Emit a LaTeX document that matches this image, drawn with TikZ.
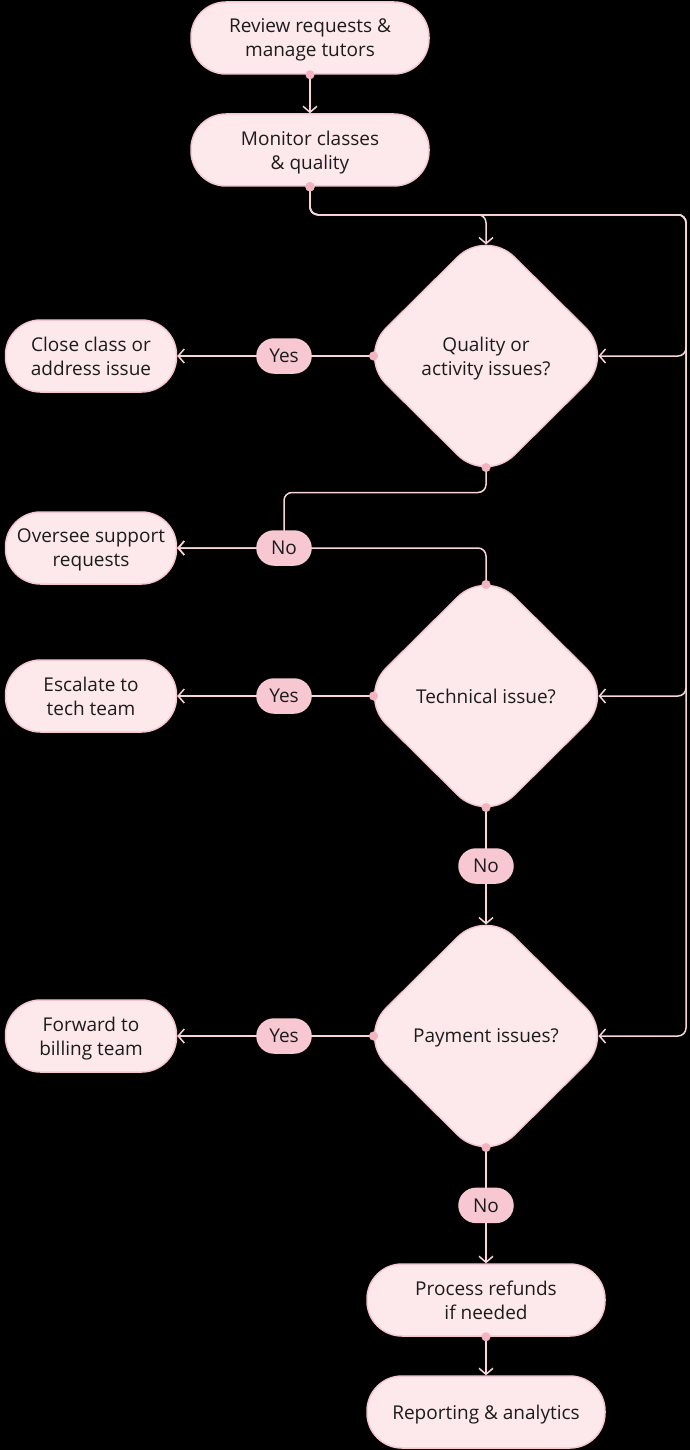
\documentclass[tikz,border=0pt]{standalone}
\usepackage{fontspec}
\setmainfont{Open Sans}
\usetikzlibrary{shapes.geometric, arrows.meta, positioning}
\definecolor{nodefill}{HTML}{FDE8EC}
\definecolor{nodeline}{HTML}{F4C6CE}
\definecolor{tagfill}{HTML}{F8C8D2}
\definecolor{wire}{HTML}{F7D6DB}
\definecolor{dotpink}{HTML}{F2B4C1}
\definecolor{ink}{HTML}{1C1C1C}
\tikzstyle{process} = [rectangle, rounded corners=35pt, minimum width=238pt, minimum height=72pt, text depth=0pt, text centered, align=center, draw=nodeline, line width=1.5pt, fill=nodefill, text=ink, font=\fontsize{19}{24}\selectfont]
\tikzstyle{side} = [process, minimum width=171pt]
\tikzstyle{decision} = [diamond, rounded corners=40pt, minimum width=247pt, minimum height=245pt, inner sep=0pt, outer sep=-11pt, text depth=0pt, text centered, align=center, draw=nodeline, line width=1.5pt, fill=nodefill, text=ink, font=\fontsize{19}{24}\selectfont]
\tikzstyle{answer} = [rectangle, rounded corners=17pt, minimum width=54pt, minimum height=34pt, inner xsep=6pt, draw=tagfill, fill=tagfill, text=ink, font=\fontsize{19}{24}\selectfont]
\tikzstyle{arrow} = [draw=wire, line width=1.5pt, rounded corners=8pt, {Circle[length=9pt,color=dotpink]}-{Straight Barb[length=6pt,width=14pt]}, shorten <=-4.5pt]

\begin{document}
\begin{tikzpicture}[node distance=112pt]
    \fill[black] (0,0) rectangle (690pt,-1450pt);
    \node (review) [process] at (310pt,-38pt) {Review requests \&\\manage tutors};
    \node (monitor) [process, below of=review] {Monitor classes\\\& quality};
    \node (q1) [decision, below of=monitor, xshift=176pt, yshift=-94pt] {Quality or\\activity issues?};
    \node (q2) [decision, below of=q1, yshift=-228pt] {Technical issue?};
    \node (q3) [decision, below of=q2, yshift=-228pt] {Payment issues?};
    \node (refunds) [process, below of=q3, yshift=-152pt] {Process refunds\\if needed};
    \node (reporting) [process, below of=refunds] {Reporting \& analytics};
    \node (close) [side, left of=q1, xshift=-283pt] {Close class or\\address issue};
    \node (oversee) [side, left of=q1, xshift=-283pt, yshift=-192pt] {Oversee support\\requests};
    \node (escalate) [side, left of=q2, xshift=-283pt] {Escalate to\\tech team};
    \node (forward) [side, left of=q3, xshift=-283pt] {Forward to\\billing team};
    \coordinate [right of=q1, xshift=88pt] (rail);
    \coordinate [left of=q1, xshift=-90pt] (tagcol);

    \draw [arrow] (review) -- (monitor);
    \draw [arrow] (monitor.south) -- ++(0,-28pt) -| (q1.north);
    \draw [arrow] (monitor.south) -- ++(0,-28pt) -| (rail |- q1.east) -- (q1.east);
    \draw [arrow] (monitor.south) -- ++(0,-28pt) -| (rail |- q2.east) -- (q2.east);
    \draw [arrow] (monitor.south) -- ++(0,-28pt) -| (rail |- q3.east) -- (q3.east);
    \draw [arrow] (q1.west) -- (tagcol |- q1.west) node[answer] {Yes} -- (close.east);
    \draw [arrow] (q2.north) |- (oversee.east);
    \draw [arrow] (q1.south) -- ++(0,-25pt) -| (tagcol |- oversee.east) node[answer] {No} -- (oversee.east);
    \draw [arrow] (q2.west) -- (tagcol |- q2.west) node[answer] {Yes} -- (escalate.east);
    \draw [arrow] (q2.south) -- node[answer] {No} (q3.north);
    \draw [arrow] (q3.west) -- (tagcol |- q3.west) node[answer] {Yes} -- (forward.east);
    \draw [arrow] (q3.south) -- node[answer] {No} (refunds.north);
    \draw [arrow] (refunds) -- (reporting);
\end{tikzpicture}
\end{document}
